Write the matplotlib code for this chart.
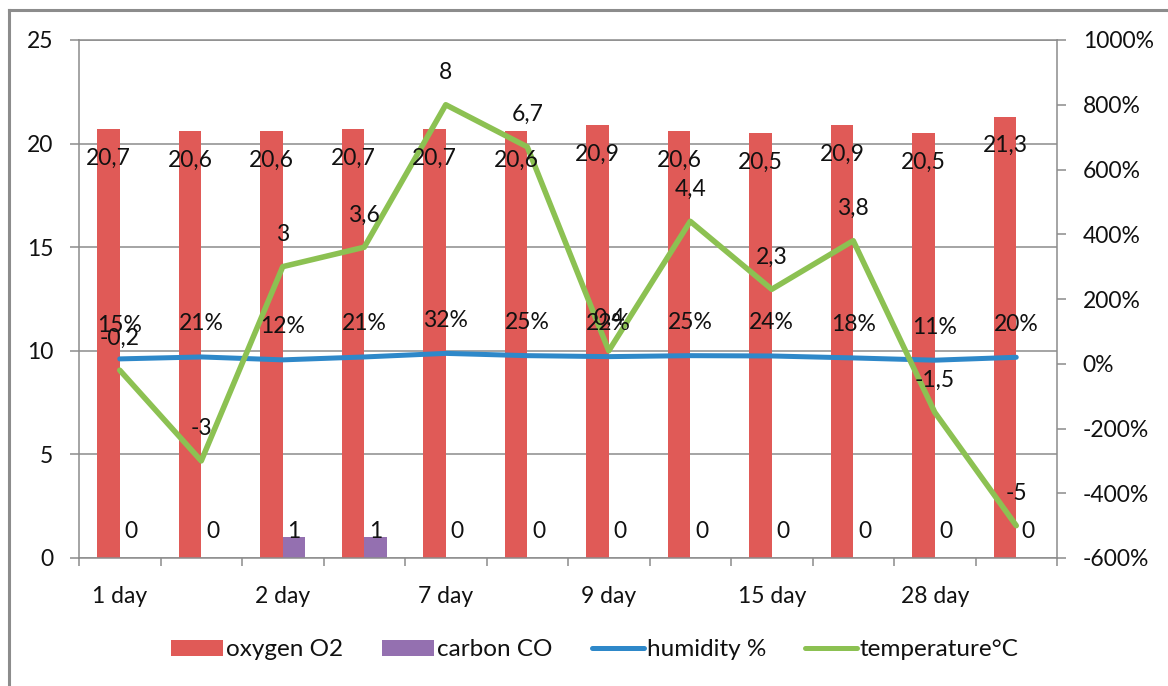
import matplotlib
matplotlib.use("Agg")
import matplotlib.pyplot as plt
from matplotlib.lines import Line2D
from matplotlib.patches import Patch
from matplotlib.ticker import FuncFormatter, MultipleLocator
import numpy as np

# Measurements per sampling day
day_labels = ["1 day", "2 day", "7 day", "9 day", "15 day", "28 day"]
oxygen = [20.7, 20.6, 20.6, 20.7, 20.7, 20.6, 20.9, 20.6, 20.5, 20.9, 20.5, 21.3]
carbon = [0, 0, 1, 1, 0, 0, 0, 0, 0, 0, 0, 0]
humidity = [0.15, 0.21, 0.12, 0.21, 0.32, 0.25, 0.22, 0.25, 0.24, 0.18, 0.11, 0.20]
temperature = [-0.2, -3, 3, 3.6, 8, 6.7, 0.4, 4.4, 2.3, 3.8, -1.5, -5]
series_names = ["oxygen O2", "carbon CO", "humidity %", "temperature°C"]

RED = "#E05A57"
PURPLE = "#9470B0"
BLUE = "#2E88C9"
GREEN = "#8CC152"
GRID = "#8C8C8C"
TEXT = "#111111"

plt.rcParams["font.family"] = ["Lato", "DejaVu Sans"]
plt.rcParams["font.size"] = 16.5
plt.rcParams["text.color"] = TEXT
plt.rcParams["xtick.color"] = GRID
plt.rcParams["ytick.color"] = GRID
plt.rcParams["xtick.labelcolor"] = TEXT
plt.rcParams["ytick.labelcolor"] = TEXT

W, H = 1168, 686
PX = 72 / 100  # points per pixel at dpi=100


def dec(v):
    return f"{v:g}".replace(".", ",")


fig = plt.figure(figsize=(W / 100, H / 100), dpi=100)
ax = fig.add_axes([79 / W, (H - 558) / H, (1057 - 79) / W, (558 - 40) / H])
ax2 = ax.twinx()

x = np.arange(len(oxygen))
w = 0.276

# Bars on the primary axis
ax.bar(x - w / 2, oxygen, w, color=RED, zorder=2)
ax.bar(x + w / 2, carbon, w, color=PURPLE, zorder=2)
ax.set_xlim(-0.5, len(oxygen) - 0.5)
ax.set_ylim(0, 25)
ax.yaxis.set_major_locator(MultipleLocator(5))
ax.grid(axis="y", color=GRID, lw=1.1)
ax.set_axisbelow(True)

ax.set_xticks(np.arange(-0.5, len(oxygen), 1), minor=True)
ax.set_xticks(x[::2])
ax.set_xticklabels(day_labels)
ax.tick_params(axis="x", which="major", length=0, pad=20)
ax.tick_params(axis="x", which="minor", length=8 * PX, width=1.1, direction="out")
ax.tick_params(axis="y", length=9 * PX, width=1.1, pad=12)

for sp in ("left", "bottom", "top"):
    ax.spines[sp].set_color(GRID)
    ax.spines[sp].set_linewidth(1.1)
ax.spines["right"].set_visible(False)

# Lines on the secondary (percent) axis
ax2.plot(x, humidity, color=BLUE, lw=3.6, solid_capstyle="round", zorder=3)
ax2.plot(x, temperature, color=GREEN, lw=4, solid_capstyle="round", zorder=4)
ax2.set_ylim(-6, 10)
ax2.yaxis.set_major_locator(MultipleLocator(2))
ax2.yaxis.set_major_formatter(FuncFormatter(lambda v, _: f"{v * 100:.0f}%"))
ax2.tick_params(axis="y", length=9 * PX, width=1.1, pad=12)
for sp in ("left", "bottom", "top"):
    ax2.spines[sp].set_visible(False)
ax2.spines["right"].set_color(GRID)
ax2.spines["right"].set_linewidth(1.1)

# Data labels
for xi, v in zip(x, oxygen):
    ax2.annotate(dec(v), (xi - w / 2, v), xycoords=ax.transData,
                 xytext=(0, -29 * PX), textcoords="offset points",
                 ha="center", va="center", zorder=6)
for xi, v in zip(x, carbon):
    ax2.annotate(dec(v), (xi + w / 2, 0), xycoords=ax.transData,
                 xytext=(0, 26 * PX), textcoords="offset points",
                 ha="center", va="center", zorder=6)
for xi, v in zip(x, humidity):
    ax2.annotate(f"{round(v * 100)}%", (xi, v),
                 xytext=(0, 33 * PX), textcoords="offset points",
                 ha="center", va="center", zorder=6)
for xi, v in zip(x, temperature):
    ax2.annotate(dec(v), (xi, v),
                 xytext=(0, 32 * PX), textcoords="offset points",
                 ha="center", va="center", zorder=6)

# Legend
handles = [
    Patch(facecolor=RED, edgecolor="none"),
    Patch(facecolor=PURPLE, edgecolor="none"),
    Line2D([], [], color=BLUE, lw=3.6, solid_capstyle="round"),
    Line2D([], [], color=GREEN, lw=3.6, solid_capstyle="round"),
]
fig.legend(handles, series_names, loc="center", ncol=4, frameon=False,
           bbox_to_anchor=(595 / W, (H - 650) / H), fontsize=17.5,
           handlelength=2.14, handleheight=0.66, handletextpad=0.12,
           columnspacing=1.6)

# Chart border (left and top edges)
fig.add_artist(Line2D([9 / W, 9 / W], [0, (H - 10) / H], transform=fig.transFigure,
                      color=GRID, lw=2.2))
fig.add_artist(Line2D([9 / W, 1], [(H - 10) / H, (H - 10) / H], transform=fig.transFigure,
                      color=GRID, lw=2.2))

fig.savefig("out.png", dpi=100)
